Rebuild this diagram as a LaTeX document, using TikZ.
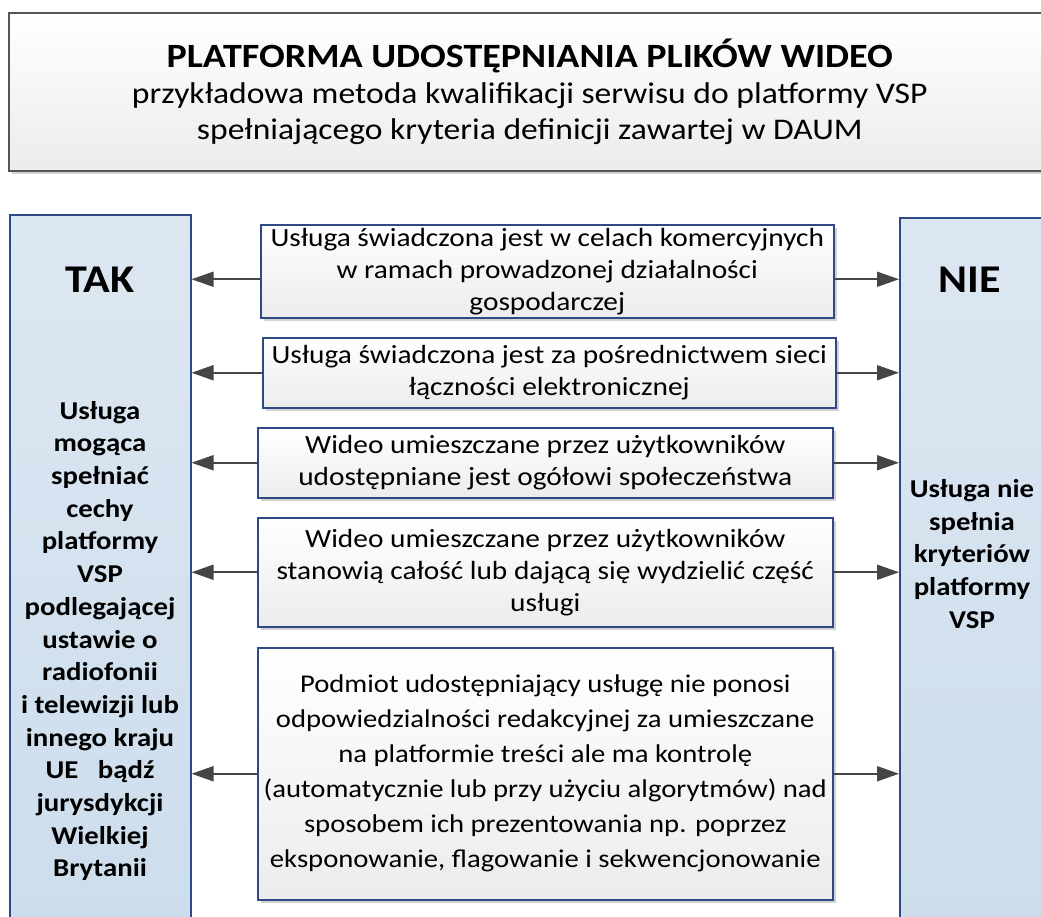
\documentclass[tikz,border=0pt]{standalone}
\usepackage{fontspec}
\setmainfont[FakeStretch=1.12]{Carlito}
\usetikzlibrary{arrows.meta,
	shadows}
\definecolor{ramka}{HTML}{2E4A86}
\definecolor{tytramka}{HTML}{555555}
\definecolor{kolgora}{HTML}{DDE7F2}
\definecolor{koldol}{HTML}{CCDDEC}
\definecolor{strzalka}{HTML}{454545}
\tikzstyle{cien}=[drop shadow={shadow xshift=3pt, shadow yshift=-3pt,
		fill=gray!35, opacity=1}]
\tikzstyle{tyt}=[draw=tytramka, line width=1.5pt, top color=white,
		bottom color=gray!15, cien, anchor=north west, inner sep=0,
		align=center, font=\fontsize{30}{36}\selectfont]
\tikzstyle{kryt}=[draw=ramka, line width=1.5pt, top color=white,
		bottom color=gray!15, cien, anchor=north west, inner sep=0,
		align=center, font=\fontsize{26.2}{32}\selectfont]
\tikzstyle{kol}=[draw=ramka, line width=1.5pt, top color=kolgora,
		bottom color=koldol, anchor=north west, inner sep=0]
\tikzstyle{naglowek}=[font=\fontsize{39.3}{44}\selectfont\bfseries]
\tikzstyle{opis}=[align=center, font=\fontsize{25.7}{32.7}\selectfont\bfseries]
\tikzstyle{strz}=[draw=strzalka, line width=1.8pt,
		-{Triangle[length=22pt, width=15pt]}, strzalka]

\begin{document}
\begin{tikzpicture}[x=1pt, y=-1pt]
	\clip (0,0) rectangle (1041,916);
	\fill[white] (0,0) rectangle (1041,916);
	% tytul
	\node[tyt, minimum width=1042pt, minimum height=158pt] (tytul) at (8,12)
		{{\fontsize{34}{40}\selectfont\bfseries PLATFORMA UDOSTĘPNIANIA PLIKÓW WIDEO}\\
		przykładowa metoda kwalifikacji serwisu do platformy VSP\\
		spełniającego kryteria definicji zawartej w DAUM};
	% kolumny
	\node[kol, minimum width=181pt, minimum height=720pt] (tak) at (9,214) {};
	\node[kol, minimum width=146pt, minimum height=720pt] (nie) at (899,217) {};
	\node[naglowek] (taknapis) at (100,280) {TAK};
	\node[naglowek] (nienapis) at (970,280) {NIE};
	\node[opis] (takopis) at (100,641) {Usługa\\ mogąca\\ spełniać\\ cechy\\
		platformy\\ VSP\\ podlegającej\\ ustawie o\\ radiofonii\\ i telewizji lub\\
		innego kraju\\ UE\ \ \ bądź\\ jurysdykcji\\ Wielkiej\\ Brytanii};
	\node[opis] (nieopis) at (972,554) {Usługa nie\\ spełnia\\ kryteriów\\
		platformy\\ VSP};
	% kryteria
	\node[kryt, minimum width=573pt, minimum height=93pt] (k1) at (260,224)
		{Usługa świadczona jest w celach komercyjnych\\
		w ramach prowadzonej działalności\\ gospodarczej};
	\node[kryt, minimum width=573pt, minimum height=70pt] (k2) at (262,337)
		{Usługa świadczona jest za pośrednictwem sieci\\
		łączności elektronicznej};
	\node[kryt, minimum width=575pt, minimum height=70pt] (k3) at (257,427)
		{Wideo umieszczane przez użytkowników\\
		udostępniane jest ogółowi społeczeństwa};
	\node[kryt, minimum width=575pt, minimum height=109pt] (k4) at (257,517)
		{Wideo umieszczane przez użytkowników\\
		stanowią całość lub dającą się wydzielić część\\ usługi};
	\node[kryt, minimum width=575pt, minimum height=252pt,
		font=\fontsize{25.6}{35}\selectfont] (k5) at (257,647)
		{Podmiot udostępniający usługę nie ponosi\\
		odpowiedzialności redakcyjnej za umieszczane\\
		na platformie treści ale ma kontrolę\\
		(automatycznie lub przy użyciu algorytmów) nad\\
		sposobem ich prezentowania np. poprzez\\
		eksponowanie, flagowanie i sekwencjonowanie};
	% strzalki
	\draw[strz] ([yshift=-8pt]k1.west) -- ([yshift=-8pt]k1.west -| tak.east);
	\draw[strz] ([yshift=-8pt]k1.east) -- ([yshift=-8pt]k1.east -| nie.west);
	\draw[strz] (k2.west) -- (k2.west -| tak.east);
	\draw[strz] (k2.east) -- (k2.east -| nie.west);
	\draw[strz] (k3.west) -- (k3.west -| tak.east);
	\draw[strz] (k3.east) -- (k3.east -| nie.west);
	\draw[strz] (k4.west) -- (k4.west -| tak.east);
	\draw[strz] (k4.east) -- (k4.east -| nie.west);
	\draw[strz] (k5.west) -- (k5.west -| tak.east);
	\draw[strz] (k5.east) -- (k5.east -| nie.west);
\end{tikzpicture}
\end{document}
